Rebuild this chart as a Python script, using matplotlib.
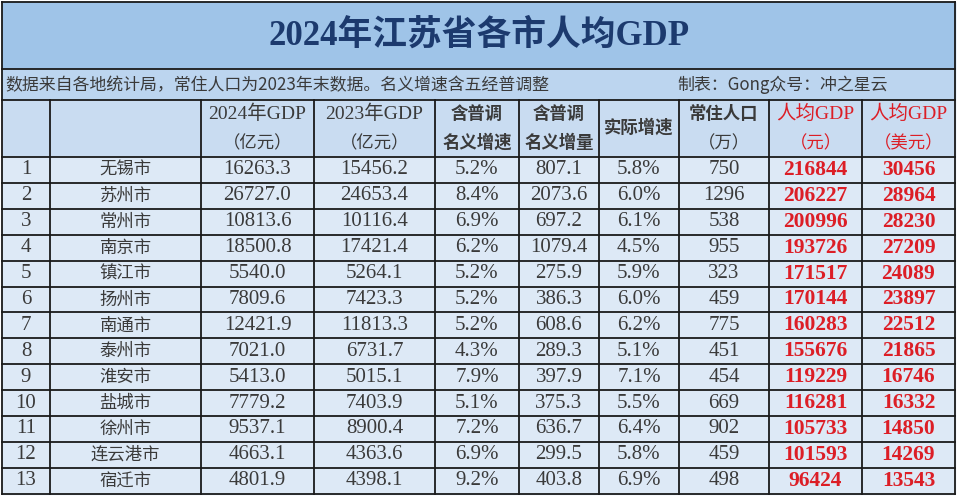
import matplotlib
matplotlib.use('Agg')
import matplotlib.pyplot as plt
from matplotlib.patches import Rectangle

plt.rcParams['font.family'] = ['Noto Sans CJK SC', 'DejaVu Sans']

title = '2024年江苏省各市人均GDP'
note_left = '数据来自各地统计局，常住人口为2023年末数据。名义增速含五经普调整'
note_right = '制表：Gong众号：冲之星云'

headers = [('', ''), ('', ''), ('2024年GDP', '（亿元）'), ('2023年GDP', '（亿元）'),
           ('含普调', '名义增速'), ('含普调', '名义增量'), ('实际增速', None),
           ('常住人口', '（万）'), ('人均GDP', '（元）'), ('人均GDP', '（美元）')]

cities = ['无锡市', '苏州市', '常州市', '南京市', '镇江市', '扬州市', '南通市',
          '泰州市', '淮安市', '盐城市', '徐州市', '连云港市', '宿迁市']
gdp_2024 = [16263.3, 26727.0, 10813.6, 18500.8, 5540.0, 7809.6, 12421.9,
            7021.0, 5413.0, 7779.2, 9537.1, 4663.1, 4801.9]
gdp_2023 = [15456.2, 24653.4, 10116.4, 17421.4, 5264.1, 7423.3, 11813.3,
            6731.7, 5015.1, 7403.9, 8900.4, 4363.6, 4398.1]
nominal_growth = [5.2, 8.4, 6.9, 6.2, 5.2, 5.2, 5.2, 4.3, 7.9, 5.1, 7.2, 6.9, 9.2]
nominal_increase = [807.1, 2073.6, 697.2, 1079.4, 275.9, 386.3, 608.6,
                    289.3, 397.9, 375.3, 636.7, 299.5, 403.8]
real_growth = [5.8, 6.0, 6.1, 4.5, 5.9, 6.0, 6.2, 5.1, 7.1, 5.5, 6.4, 5.8, 6.9]
population = [750, 1296, 538, 955, 323, 459, 775, 451, 454, 669, 902, 459, 498]
per_capita_cny = [216844, 206227, 200996, 193726, 171517, 170144, 160283,
                  155676, 119229, 116281, 105733, 101593, 96424]
per_capita_usd = [30456, 28964, 28230, 27209, 24089, 23897, 22512,
                  21865, 16746, 16332, 14850, 14269, 13543]

# layout (pixels)
W, H = 958, 497
col_x = [2, 50, 201, 314, 435, 519, 599, 679, 769, 862, 955]
title_y = (2, 69)
note_y = (69, 100)
head_y = (100, 157)
row_h = 25.9

serif = ['Liberation Serif', 'Noto Sans CJK SC']
navy = '#1c3a6e'
grey = '#3a3a3a'
red = '#dc1e26'
line_c = '#1a1a1a'

fig = plt.figure(figsize=(W / 100, H / 100), dpi=100)
ax = fig.add_axes([0, 0, 1, 1])
ax.set_xlim(0, W)
ax.set_ylim(H, 0)
ax.axis('off')

bottom = head_y[1] + row_h * len(cities)

# backgrounds
ax.add_patch(Rectangle((0, 0), W, H, color='white', zorder=0))
ax.add_patch(Rectangle((col_x[0], title_y[0]), col_x[-1] - col_x[0], title_y[1] - title_y[0],
                       color='#9fc4e8', zorder=1))
ax.add_patch(Rectangle((col_x[0], note_y[0]), col_x[-1] - col_x[0], note_y[1] - note_y[0],
                       color='#bcd5ef', zorder=1))
ax.add_patch(Rectangle((col_x[0], head_y[0]), col_x[-1] - col_x[0], head_y[1] - head_y[0],
                       color='#c9dcf1', zorder=1))
ax.add_patch(Rectangle((col_x[0], head_y[1]), col_x[-1] - col_x[0], bottom - head_y[1],
                       color='#dde9f6', zorder=1))

# grid lines
lw = 1.3
for y in [title_y[0], title_y[1], note_y[1], head_y[1]]:
    ax.plot([col_x[0], col_x[-1]], [y, y], color=line_c, lw=lw, zorder=3)
for i in range(1, len(cities) + 1):
    y = head_y[1] + row_h * i
    ax.plot([col_x[0], col_x[-1]], [y, y], color=line_c, lw=lw, zorder=3)
for x in [col_x[0], col_x[-1]]:
    ax.plot([x, x], [title_y[0], bottom], color=line_c, lw=lw, zorder=3)
for x in col_x[1:-1]:
    ax.plot([x, x], [head_y[0], bottom], color=line_c, lw=lw, zorder=3)

# title and note
ax.text(W / 2, 36, title, ha='center', va='center', fontsize=25, fontweight='bold',
        family=serif, color=navy, zorder=4)
ax.text(5, 85, note_left, ha='left', va='center', fontsize=12.2, color=grey, zorder=4)
ax.text(677, 85, note_right, ha='left', va='center', fontsize=12.2, color=grey, zorder=4)

# header
centers = [(col_x[i] + col_x[i + 1]) / 2 for i in range(len(col_x) - 1)]
for j, (l1, l2) in enumerate(headers):
    cx = centers[j]
    c = red if j >= 8 else grey
    if l2 is None:
        ax.text(cx, 128, l1, ha='center', va='center', fontsize=12.5, fontweight='bold',
                color=c, zorder=4)
        continue
    gdp_like = 'GDP' in l1
    ax.text(cx, 114, l1, ha='center', va='center', fontsize=12.5 if not gdp_like else 14,
            fontweight='bold' if not gdp_like else 'normal',
            family=serif if gdp_like else None, color=c, zorder=4)
    ax.text(cx, 143, l2, ha='center', va='center', fontsize=12.5,
            fontweight='normal' if gdp_like or j == 7 else 'bold', color=c, zorder=4)

# body
for i, city in enumerate(cities):
    cy = head_y[1] + row_h * (i + 0.5)
    vals = [str(i + 1), city, f'{gdp_2024[i]:.1f}', f'{gdp_2023[i]:.1f}',
            f'{nominal_growth[i]:.1f}%', f'{nominal_increase[i]:.1f}',
            f'{real_growth[i]:.1f}%', str(population[i]),
            str(per_capita_cny[i]), str(per_capita_usd[i])]
    for j, v in enumerate(vals):
        if j == 1:
            ax.text(centers[j], cy, v, ha='center', va='center', fontsize=12.5,
                    color=grey, zorder=4)
        elif j >= 8:
            ax.text(centers[j], cy, v, ha='center', va='center', fontsize=15.5,
                    fontweight='bold', family=serif, color=red, zorder=4)
        else:
            ax.text(centers[j], cy, v, ha='center', va='center', fontsize=15,
                    family=serif, color=grey, zorder=4)

fig.savefig('out.png', dpi=100)
